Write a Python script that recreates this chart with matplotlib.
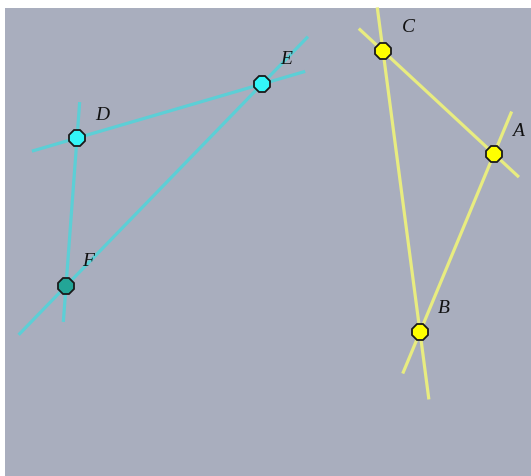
import matplotlib
matplotlib.use("Agg")

import numpy as np
import matplotlib.pyplot as plt
from matplotlib.patches import Rectangle

# point positions (pixel coords of the picture)
names = ["A", "B", "C", "D", "E", "F"]
px = [494, 420, 383, 77, 262, 66]
py = [155, 333, 52, 139, 85, 287]
fills = ["#ffff00", "#ffff00", "#ffff00", "#33f5f8", "#33f5f8", "#23a597"]

# lines through pairs of points, with overhang past each end
line_pairs = [("C", "B"), ("C", "A"), ("A", "B"), ("D", "E"), ("D", "F"), ("E", "F")]
overhang = [(44, 68), (33, 34), (46, 45), (47, 45), (36, 36), (66, 68)]
line_colors = ["#e8ec80", "#e8ec80", "#e8ec80", "#5ccfd6", "#5ccfd6", "#5ccfd6"]

# label offsets from the points
label_dx = [24, 24, 25, 25, 24, 22]
label_dy = [-23, -24, -24, -24, -25, -25]

W, H = 531, 477
fig = plt.figure(figsize=(W / 100, H / 100), dpi=100)
ax = fig.add_axes([0, 0, 1, 1])
ax.set_xlim(0, W)
ax.set_ylim(H, 0)
ax.axis("off")
fig.patch.set_facecolor("white")

ax.add_patch(Rectangle((5, 9), W - 5, H - 9, facecolor="#a9aebe", edgecolor="none", zorder=0))

pos = {n: np.array([x, y], float) for n, x, y in zip(names, px, py)}
for (a, b), (oa, ob), c in zip(line_pairs, overhang, line_colors):
    p, q = pos[a], pos[b]
    d = (q - p) / np.linalg.norm(q - p)
    s = p - d * oa
    e = q + d * ob
    ax.plot([s[0], e[0]], [s[1], e[1]], color=c, lw=2.3, solid_capstyle="butt", zorder=1)

for n, x, y, f, dx, dy in zip(names, px, py, fills, label_dx, label_dy):
    ax.plot(x, y, marker="8", ms=13, mfc=f, mec="#1a1a1a", mew=1.3, zorder=3)
    ax.text(x + dx, y + dy, n, fontsize=14, family="Liberation Serif", style="italic",
            ha="center", va="center", color="#111111", zorder=4)

fig.savefig("out.png", dpi=100)
